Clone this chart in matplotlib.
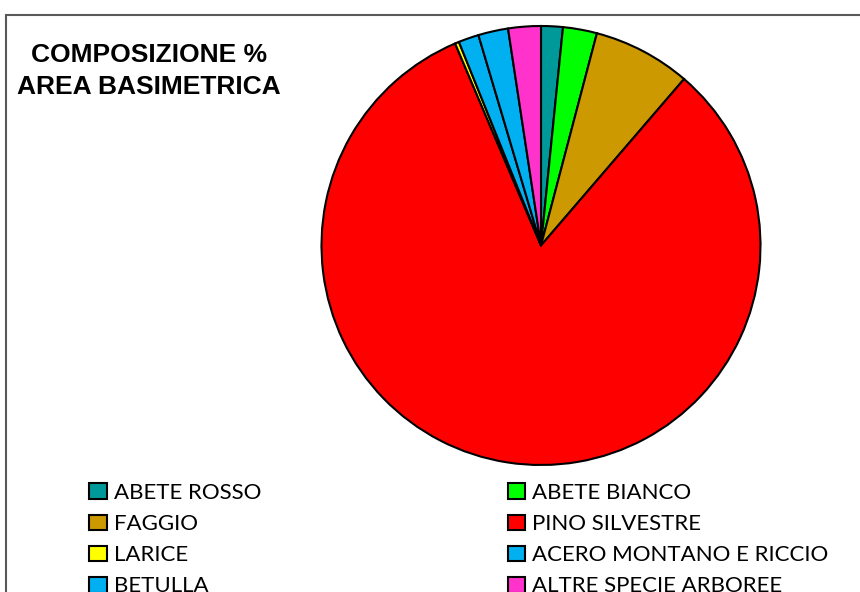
import matplotlib
matplotlib.use("Agg")
import matplotlib.pyplot as plt
from matplotlib.patches import Rectangle

# basal area share by species (%)
species = ["ABETE ROSSO", "ABETE BIANCO", "FAGGIO", "PINO SILVESTRE",
           "LARICE", "ACERO MONTANO E RICCIO", "BETULLA", "ALTRE SPECIE ARBOREE"]
shares = [1.6, 2.5, 7.2, 82.3, 0.3, 1.5, 2.2, 2.4]
colors = ["#009999", "#00FF00", "#CC9900", "#FF0000",
          "#FFFF00", "#00B0F0", "#00B0F0", "#FF33CC"]

W, H = 860, 592
fig = plt.figure(figsize=(W / 100, H / 100), dpi=100)

# chart frame, running off the right and bottom edges
fig.patches.append(Rectangle((6 / W, -0.1), 1.2, (H - 15) / H + 0.1,
                             transform=fig.transFigure, fill=False,
                             edgecolor="#595959", linewidth=1.5))

cx, cy, r = 541, 245.5, 219.5
ax = fig.add_axes([(cx - r) / W, (H - cy - r) / H, 2 * r / W, 2 * r / H])
wedges, _ = ax.pie(shares, colors=colors, startangle=90, counterclock=False,
                   wedgeprops=dict(edgecolor="black", linewidth=1.5))
for w in wedges:
    w.set_clip_on(False)
ax.set_xlim(-1, 1)
ax.set_ylim(-1, 1)
ax.set_aspect("equal")

fig.text(149 / W, 1 - 71 / H, "COMPOSIZIONE %\nAREA BASIMETRICA",
         ha="center", va="center", fontsize=19, fontweight="bold",
         family="Liberation Sans", linespacing=1.4)

handles = [Rectangle((0, 0), 1, 1, facecolor=c, edgecolor="black", linewidth=1.5)
           for c in colors]
# legend fills column by column, so reorder to read across rows
order = [0, 2, 4, 6, 1, 3, 5, 7]
fig.legend([handles[i] for i in order], [species[i] for i in order],
           ncol=2, loc="upper left",
           bbox_to_anchor=(78 / W, 1 - 472 / H), frameon=False,
           prop=dict(family="Lato", size=16),
           handlelength=0.8, handleheight=0.72, handletextpad=0.3,
           labelspacing=0.5, columnspacing=11.1, borderpad=0)

fig.savefig("out.png", dpi=100)
